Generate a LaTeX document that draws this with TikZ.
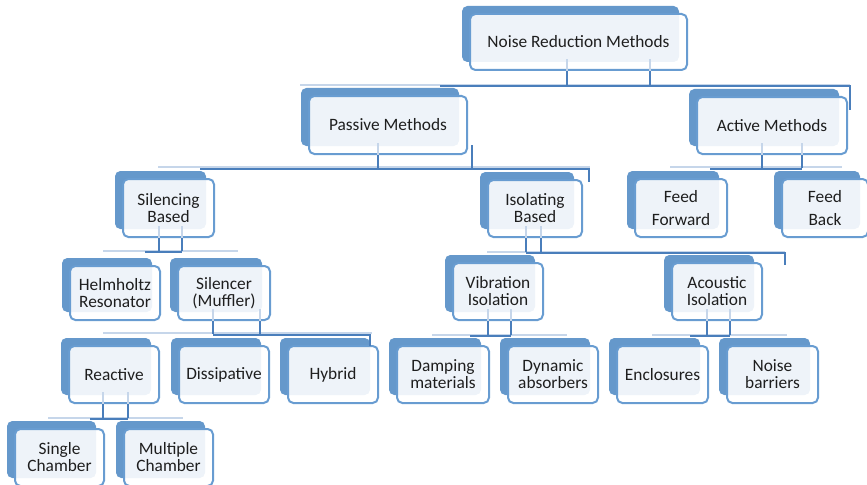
\documentclass[tikz,border=0pt]{standalone}
\usepackage{fontspec}
\setmainfont{Carlito}
\usetikzlibrary{calc}

\definecolor{boxblue}{RGB}{101,152,203}
\definecolor{edgeblue}{RGB}{104,156,209}
\definecolor{linedark}{RGB}{74,126,187}
\definecolor{linelight}{RGB}{198,214,234}
\definecolor{txt}{RGB}{30,30,30}

\begin{document}
\begin{tikzpicture}[x=0.75pt, y=-0.75pt,
	blk/.style 2 args={draw=edgeblue, line width=1.5pt, rounded corners=4pt,
		fill=white, fill opacity=0.89, text opacity=1, text=txt,
		minimum width=#1*0.75pt, minimum height=#2*0.75pt, inner sep=0pt,
		align=center, font=\fontsize{13}{12.75}\selectfont,
		preaction={draw=none, fill=boxblue, fill opacity=1,
			transform canvas={shift={(-6pt,6pt)}}}},
	bus/.style={draw=linedark, line width=1.5pt},
	ghost/.style={draw=linelight, line width=1.5pt}]
	
	\useasboundingbox (0,0) rectangle (867,485);
	\clip (0,0) rectangle (867,485);
	
	\node[blk={217}{56}] (root) at (578.5,42) {Noise Reduction Methods};
	\node[blk={158}{58}] (pas) at (388,125) {Passive Methods};
	\node[blk={150}{57}] (act) at (772,125.5) {Active Methods};
	\node[blk={91}{58}] (sil) at (168.5,208) {Silencing\\Based};
	\node[blk={94}{57}] (iso) at (535,208.5) {Isolating\\Based};
	\node[blk={92}{58}] (ff) at (681,208) {Feed\\[4.5pt]Forward};
	\node[blk={86}{58}] (fb) at (825,208) {Feed\\[4.5pt]Back};
	\node[blk={90}{54}] (helm) at (115,293) {Helmholtz\\Resonator};
	\node[blk={92}{54}] (muf) at (224,293) {Silencer\\(Muffler)};
	\node[blk={90}{57}] (vib) at (498,291.5) {Vibration\\Isolation};
	\node[blk={90}{57}] (aco) at (717,291.5) {Acoustic\\Isolation};
	\node[blk={90}{57}] (rea) at (114,374.5) {Reactive};
	\node[blk={90}{57}] (dis) at (224,374.5) {Dissipative};
	\node[blk={90}{57}] (hyb) at (333,374.5) {Hybrid};
	\node[blk={92}{57}] (damp) at (443,374.5) {Damping\\materials};
	\node[blk={90}{57}] (dyn) at (553,374.5) {Dynamic\\absorbers};
	\node[blk={91}{57}] (encl) at (662.5,374.5) {Enclosures};
	\node[blk={91}{57}] (barr) at (772.5,374.5) {Noise\\barriers};
	\node[blk={89}{57}] (single) at (59.5,457.5) {Single\\Chamber};
	\node[blk={89}{57}] (multi) at (168.5,457.5) {Multiple\\Chamber};
	
	% root fork
	\coordinate (r1) at (567,86); \coordinate (r2) at (650,86);
	\coordinate (rA) at (300,85); \coordinate (rB) at (850,85);
	\coordinate (rC) at (440,86.5); \coordinate (rD) at (850,110);
	\draw[ghost] (rA) -- (rB);
	\draw[bus] (rC) -- (rC -| rB) -- (rD);
	\draw[ghost] (r1 |- root.south) -- ++(0,-12) (r2 |- root.south) -- ++(0,-12);
	\draw[bus] (r1 |- root.south) -- (r1) (r2 |- root.south) -- (r2);
	
	% passive fork
	\coordinate (p1) at (378,168); \coordinate (p2) at (472,168);
	\coordinate (pT) at (472,145);
	\coordinate (pA) at (158,167); \coordinate (pB) at (590,167);
	\coordinate (pC) at (200,168.5); \coordinate (pD) at (589,182);
	\draw[ghost] (pA) -- (pB);
	\draw[bus] (pC) -- (pC -| pD) -- (pD);
	\draw[ghost] (p1 |- pas.south) -- ++(0,-12);
	\draw[bus] (p1 |- pas.south) -- (p1) (pT) -- (p2);
	
	% active fork
	\coordinate (a1) at (762,168); \coordinate (a2) at (802,168);
	\coordinate (aA) at (670,167); \coordinate (aB) at (842,167);
	\coordinate (aC) at (710,168.5);
	\draw[ghost] (aA) -- (aB);
	\draw[bus] (aC) -- (aC -| a2);
	\draw[ghost] (a1 |- act.south) -- ++(0,-12) (a2 |- act.south) -- ++(0,-12);
	\draw[bus] (a1 |- act.south) -- (a1) (a2 |- act.south) -- (a2);
	
	% silencing fork
	\coordinate (s1) at (159,251); \coordinate (s2) at (182,251);
	\coordinate (sA) at (103,251); \coordinate (sB) at (238,251);
	\coordinate (sC) at (145,252);
	\draw[ghost] (sA) -- (sB);
	\draw[bus] (sC) -- (sC -| s2);
	\draw[ghost] (s1 |- sil.south) -- ++(0,-12) (s2 |- sil.south) -- ++(0,-12);
	\draw[bus] (s1 |- sil.south) -- (s1) (s2 |- sil.south) -- (s2);
	
	% isolating fork
	\coordinate (i1) at (526,252); \coordinate (i2) at (541,252);
	\coordinate (iA) at (487,252); \coordinate (iB) at (785,252);
	\coordinate (iC) at (526,253); \coordinate (iD) at (785,265);
	\draw[ghost] (iA) -- (iB);
	\draw[bus] (iC) -- (iC -| iD) -- (iD);
	\draw[ghost] (i1 |- iso.south) -- ++(0,-12) (i2 |- iso.south) -- ++(0,-12);
	\draw[bus] (i1 |- iso.south) -- (i1) (i2 |- iso.south) -- (i2);
	
	% muffler fork
	\coordinate (m1) at (213,334); \coordinate (m2) at (260,334);
	\coordinate (mA) at (103,333); \coordinate (mB) at (372,333);
	\coordinate (mC) at (213,334.5); \coordinate (mD) at (370,346);
	\draw[ghost] (mA) -- (mB);
	\draw[bus] (mC) -- (mC -| mD) -- (mD);
	\draw[ghost] (m1 |- muf.south) -- ++(0,-12) (m2 |- muf.south) -- ++(0,-12);
	\draw[bus] (m1 |- muf.south) -- (m1) (m2 |- muf.south) -- (m2);
	
	% vibration fork
	\coordinate (v1) at (488,335); \coordinate (v2) at (511,335);
	\coordinate (vA) at (432,335); \coordinate (vB) at (567,335);
	\coordinate (vC) at (470,336);
	\draw[ghost] (vA) -- (vB);
	\draw[bus] (vC) -- (vC -| v2);
	\draw[ghost] (v1 |- vib.south) -- ++(0,-12) (v2 |- vib.south) -- ++(0,-12);
	\draw[bus] (v1 |- vib.south) -- (v1) (v2 |- vib.south) -- (v2);
	
	% acoustic fork
	\coordinate (c1) at (707,335); \coordinate (c2) at (730,335);
	\coordinate (cA) at (652,335); \coordinate (cB) at (787,335);
	\coordinate (cC) at (690,336);
	\draw[ghost] (cA) -- (cB);
	\draw[bus] (cC) -- (cC -| c2);
	\draw[ghost] (c1 |- aco.south) -- ++(0,-12) (c2 |- aco.south) -- ++(0,-12);
	\draw[bus] (c1 |- aco.south) -- (c1) (c2 |- aco.south) -- (c2);
	
	% reactive fork
	\coordinate (e1) at (103,418); \coordinate (e2) at (128,418);
	\coordinate (eA) at (48,418); \coordinate (eB) at (183,418);
	\coordinate (eC) at (90,419);
	\draw[ghost] (eA) -- (eB);
	\draw[bus] (eC) -- (eC -| e2);
	\draw[ghost] (e1 |- rea.south) -- ++(0,-12) (e2 |- rea.south) -- ++(0,-12);
	\draw[bus] (e1 |- rea.south) -- (e1) (e2 |- rea.south) -- (e2);
\end{tikzpicture}
\end{document}
